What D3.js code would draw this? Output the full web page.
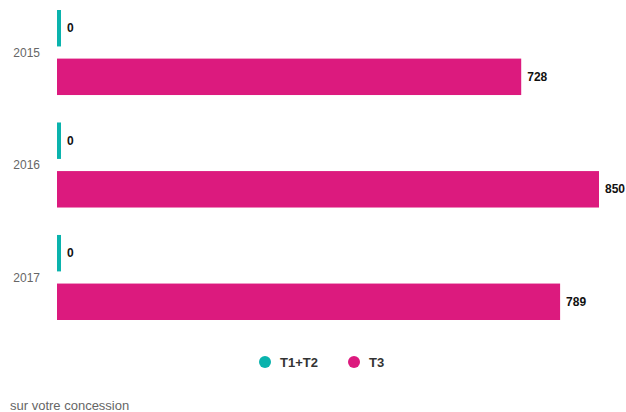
<!DOCTYPE html>
<html>
<head>
<meta charset="utf-8">
<title>T1+T2 / T3</title>
<script src="https://cdn.jsdelivr.net/npm/d3@7"></script>
<style>
body, html {
  margin: 0;
  background: #fff;
}
svg {
  display: block;
  font-family: "Liberation Sans", Arial, Helvetica, sans-serif;
}
.year { fill: #666; font-size: 12px; }
.val { fill: #111; font-size: 12px; font-weight: bold; }
.leg { fill: #333; font-size: 13px; font-weight: bold; }
.note { fill: #666; font-size: 13px; }
</style>
</head>
<body>
<script>
var years = ['2015', '2016', '2017'];
var series = ['T1+T2', 'T3'];
var colors = ['#0ab3ad', '#dc1a7e'];
var t1t2 = [0, 0, 0];
var t3 = [728, 850, 789];
var values = [t1t2, t3];

var width = 626, height = 412;

var svg = d3.select("body").append("svg")
    .attr("width", width)
    .attr("height", height);

var x = d3.scaleLinear()
    .domain([0, d3.max(t3)])
    .range([57, 599]);

var y = d3.scaleBand()
    .domain(years)
    .range([10, 320])
    .paddingInner(0.244);

var y1 = d3.scaleBand()
    .domain(series)
    .range([0, y.bandwidth()])
    .paddingInner(0.25);

var groups = svg.selectAll("g.year-group")
  .data(years)
  .enter().append("g")
    .attr("class", "year-group")
    .attr("transform", function(d) { return "translate(0," + y(d) + ")"; });

groups.append("text")
    .attr("class", "year")
    .attr("x", 40)
    .attr("y", y.bandwidth() / 2)
    .attr("dy", "0.35em")
    .attr("text-anchor", "end")
    .text(function(d) { return d; });

series.forEach(function(s, si) {
  groups.append("rect")
      .attr("x", x(0))
      .attr("y", y1(s))
      .attr("height", y1.bandwidth())
      .attr("width", function(d, i) { return Math.max(4, x(values[si][i]) - x(0)); })
      .attr("fill", colors[si]);

  groups.append("text")
      .attr("class", "val")
      .attr("x", function(d, i) { return Math.max(x(0) + 4, x(values[si][i])) + 6; })
      .attr("y", y1(s) + y1.bandwidth() / 2)
      .attr("dy", "0.35em")
      .text(function(d, i) { return values[si][i]; });
});

// legend
var legend = svg.append("g").attr("transform", "translate(265,362)");
var legX = [0, 89];
series.forEach(function(s, i) {
  legend.append("circle")
      .attr("cx", legX[i])
      .attr("cy", 0)
      .attr("r", 6)
      .attr("fill", colors[i]);
  legend.append("text")
      .attr("class", "leg")
      .attr("x", legX[i] + 15)
      .attr("y", 0)
      .attr("dy", "0.35em")
      .text(s);
});

svg.append("text")
    .attr("class", "note")
    .attr("x", 10)
    .attr("y", 410)
    .text("sur votre concession");
</script>
</body>
</html>
